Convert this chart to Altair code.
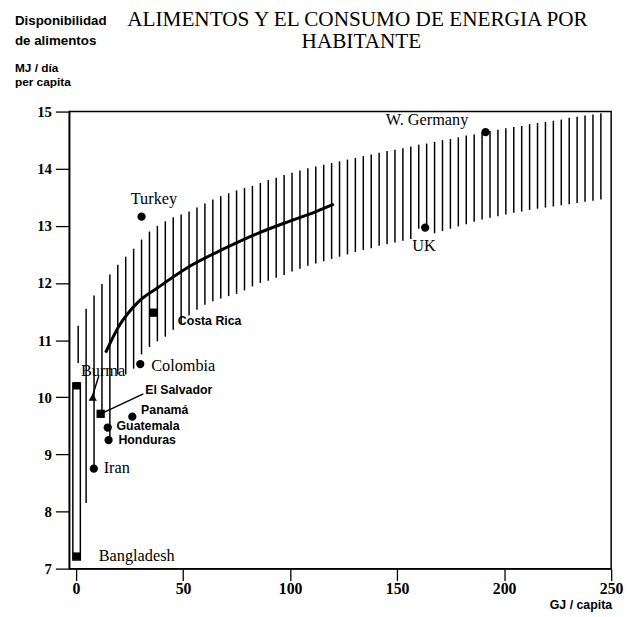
import altair as alt
import pandas as pd

# ---- hatch band (vertical lines) ----
hatch_x = [1.0, 4.7, 8.4, 12.1, 15.8, 19.5, 23.2, 26.9, 30.6, 34.3, 38.0, 41.7, 45.4, 49.1,
           52.8, 56.5, 60.2, 63.9, 67.6, 71.3, 75.0, 78.7, 82.4, 86.1, 89.8, 93.5, 97.2,
           100.9, 104.6, 108.3, 112.0, 115.7, 119.4, 123.1, 126.8, 130.5, 134.2, 137.9,
           141.6, 145.3, 149.0, 152.7, 156.4, 160.1, 163.8, 167.5, 171.2, 174.9, 178.6,
           182.3, 186.0, 189.7, 193.4, 197.1, 200.8, 204.5, 208.2, 211.9, 215.6, 219.3,
           223.0, 226.7, 230.4, 234.1, 237.8, 241.5, 245.2]
hatch_top = [11.25, 11.55, 11.78, 11.98, 12.15, 12.32, 12.46, 12.6, 12.76, 12.9, 13.0, 13.08,
             13.15, 13.2, 13.25, 13.32, 13.39, 13.46, 13.52, 13.57, 13.62, 13.66, 13.7, 13.75,
             13.8, 13.84, 13.89, 13.93, 13.97, 14.01, 14.04, 14.07, 14.1, 14.13, 14.16, 14.19,
             14.22, 14.25, 14.28, 14.31, 14.33, 14.36, 14.39, 14.42, 14.44, 14.47, 14.5, 14.52,
             14.55, 14.58, 14.6, 14.63, 14.66, 14.68, 14.71, 14.73, 14.75, 14.78, 14.8, 14.82,
             14.84, 14.86, 14.89, 14.91, 14.93, 14.95, 14.97]
hatch_bottom = [10.6, 8.15, 8.75, 9.7, 9.3, 10.4, 10.4, 10.5, 10.75, 10.88, 10.98, 11.06,
                11.18, 11.3, 11.43, 11.53, 11.62, 11.68, 11.73, 11.77, 11.81, 11.87, 11.94, 12.0,
                12.04, 12.09, 12.14, 12.2, 12.25, 12.3, 12.34, 12.38, 12.42, 12.46, 12.5, 12.54,
                12.58, 12.61, 12.65, 12.68, 12.71, 12.74, 12.77, 12.95, 12.97, 12.87, 12.91, 12.95,
                12.99, 13.03, 13.07, 13.11, 13.14, 13.17, 13.2, 13.23, 13.25, 13.28, 13.3, 13.32,
                13.34, 13.36, 13.38, 13.4, 13.42, 13.44, 13.46]

# ---- fitted curve ----
curve_x = [13.8, 19.8, 29.1, 38.3, 53.5, 69.2, 84.4, 99.6, 112.1, 120.4]
curve_y = [10.78, 11.23, 11.67, 11.92, 12.30, 12.60, 12.86, 13.08, 13.25, 13.38]

# ---- countries ----
countries = ["W. Germany", "Turkey", "UK", "Costa Rica", "Colombia", "Burma",
             "El Salvador", "Panamá", "Guatemala", "Honduras", "Iran"]
energy = [191.3, 30.6, 163.1, 36.0, 30.0, 7.8, 11.5, 26.3, 14.8, 15.2, 8.3]
food = [14.64, 13.16, 12.97, 11.48, 10.58, 10.0, 9.71, 9.66, 9.47, 9.25, 8.75]
markers = ["circle", "circle", "circle", "square", "circle", "triangle-up",
           "square", "circle", "circle", "circle", "circle"]

# Bangladesh range bar
bang_x = [-1.5, 2.0]
bang_y = [7.15, 10.25]
bang_marks_x = [0.25, 0.25]
bang_marks_y = [10.2, 7.22]

# labels
serif_center_lab = ["W. Germany", "Turkey", "UK"]
serif_center_x = [164.0, 36.4, 162.6]
serif_center_y = [14.76, 13.38, 12.56]
serif_left_lab = ["Colombia", "Burma", "Iran", "Bangladesh"]
serif_left_x = [35.1, 2.3, 12.9, 10.6]
serif_left_y = [10.46, 10.37, 8.68, 7.14]
sans_lab = ["Costa Rica", "El Salvador", "Panamá", "Guatemala", "Honduras"]
sans_x = [47.5, 32.3, 30.4, 18.9, 19.8]
sans_y = [11.27, 10.06, 9.71, 9.42, 9.19]

# leader lines (Burma, El Salvador)
lead_x = [10.6, 11.5]
lead_y = [10.37, 9.71]
lead_x2 = [7.5, 31.4]
lead_y2 = [10.0, 10.06]

x_ticks = [0, 50, 100, 150, 200, 250]
y_ticks = [7, 8, 9, 10, 11, 12, 13, 14, 15]

hatch_df = pd.DataFrame({"x": hatch_x, "top": hatch_top, "bottom": hatch_bottom})
curve_df = pd.DataFrame({"x": curve_x, "y": curve_y})
pts_df = pd.DataFrame({"c": countries, "x": energy, "y": food, "shape": markers})
bang_df = pd.DataFrame({"x": [bang_x[0]], "x2": [bang_x[1]], "y": [bang_y[0]], "y2": [bang_y[1]]})
bangm_df = pd.DataFrame({"x": bang_marks_x, "y": bang_marks_y})
lead_df = pd.DataFrame({"x": lead_x, "y": lead_y, "x2": lead_x2, "y2": lead_y2})
slc_df = pd.DataFrame({"t": serif_center_lab, "x": serif_center_x, "y": serif_center_y})
sll_df = pd.DataFrame({"t": serif_left_lab, "x": serif_left_x, "y": serif_left_y})
sans_df = pd.DataFrame({"t": sans_lab, "x": sans_x, "y": sans_y})
one = pd.DataFrame({"a": [0]})

xs = alt.Scale(domain=[-3.2, 250], nice=False, zero=False)
ys = alt.Scale(domain=[7, 15], nice=False, zero=False)

xaxis = alt.Axis(values=x_ticks, title=None, tickSize=12, tickWidth=1.3, tickColor="black",
                 domainColor="black", domainWidth=1.5, grid=False, labelFont="Liberation Serif",
                 labelFontSize=16, labelFontWeight="bold", labelColor="black", labelPadding=0,
                 labelFlush=False)
yaxis = alt.Axis(values=y_ticks, title=None, tickSize=14, tickWidth=1.3, tickColor="black",
                 domainColor="black", domainWidth=1.5, grid=False, labelFont="Liberation Serif",
                 labelFontSize=15, labelFontWeight="bold", labelColor="black", labelPadding=4,
                 labelFlush=False)


def X(f):
    return alt.X(f, scale=xs, axis=xaxis)


def Y(f):
    return alt.Y(f, scale=ys, axis=yaxis)


hatch = alt.Chart(hatch_df).mark_rule(color="black", strokeWidth=1.5).encode(
    x=X("x:Q"), y=Y("top:Q"), y2="bottom:Q",
)

curve = alt.Chart(curve_df).mark_line(color="black", strokeWidth=3, interpolate="monotone").encode(
    x=X("x:Q"), y=Y("y:Q")
)

bang = alt.Chart(bang_df).mark_rect(fill="white", stroke="black", strokeWidth=1.5).encode(
    x=X("x:Q"), x2="x2:Q", y=Y("y:Q"), y2="y2:Q",
)
bangm = alt.Chart(bangm_df).mark_point(shape="square", filled=True, color="black", opacity=1, size=55).encode(
    x=X("x:Q"), y=Y("y:Q")
)

leads = alt.Chart(lead_df).mark_rule(color="black", strokeWidth=1.5).encode(
    x=X("x:Q"), y=Y("y:Q"), x2="x2:Q", y2="y2:Q",
)

pts = alt.Chart(pts_df).mark_point(filled=True, color="black", opacity=1, size=70).encode(
    x=X("x:Q"), y=Y("y:Q"), shape=alt.Shape("shape:N", scale=None),
)

lab1 = alt.Chart(slc_df).mark_text(font="Liberation Serif", fontSize=16.5, align="center",
                                    baseline="alphabetic", color="black").encode(
    x=X("x:Q"), y=Y("y:Q"), text="t:N")
lab2 = alt.Chart(sll_df).mark_text(font="Liberation Serif", fontSize=16.5, align="left",
                                    baseline="alphabetic", color="black").encode(
    x=X("x:Q"), y=Y("y:Q"), text="t:N")
lab3 = alt.Chart(sans_df).mark_text(font="Liberation Sans", fontSize=12.5, fontWeight="bold",
                                     align="left", baseline="alphabetic", color="black").encode(
    x=X("x:Q"), y=Y("y:Q"), text="t:N")


def note(txt, x, y, font, size, align="left", weight="normal"):
    return alt.Chart(one).mark_text(font=font, fontSize=size, align=align, baseline="alphabetic",
                                    color="black", fontWeight=weight).encode(
        x=alt.value(x), y=alt.value(y), text=alt.value(txt))


notes = [
    note("ALIMENTOS Y EL CONSUMO DE ENERGIA POR", 292, -87, "Liberation Serif", 21.5, "center"),
    note("HABITANTE", 296, -64, "Liberation Serif", 21.5, "center"),
    note("Disponibilidad", -55, -88, "Liberation Sans", 13.5, "left", "bold"),
    note("de alimentos", -55, -67, "Liberation Sans", 13.5, "left", "bold"),
    note("MJ / día", -55, -40, "Liberation Sans", 12, "left", "bold"),
    note("per capita", -55, -26, "Liberation Sans", 12, "left", "bold"),
    note("GJ / capita", 550, 504, "Liberation Sans", 12.5, "right", "bold"),
]

chart = alt.layer(hatch, curve, bang, bangm, leads, pts, lab1, lab2, lab3, *notes).properties(
    width=549, height=463,
    autosize=alt.AutoSizeParams(type="none"),
    padding={"left": 62, "top": 101, "right": 12, "bottom": 40},
).configure_view(stroke="black", strokeWidth=1.5)

chart.save("out.html", embed_options={"renderer": "svg", "actions": False})
